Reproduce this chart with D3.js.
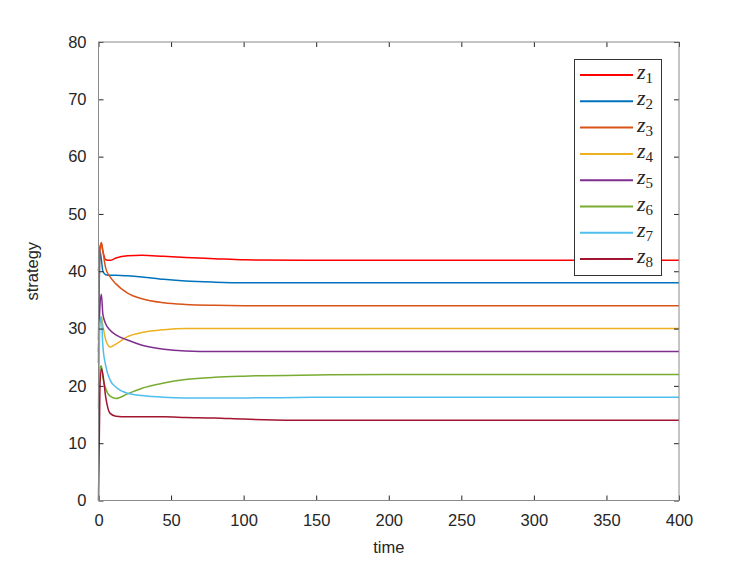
<!DOCTYPE html>
<html>
<head>
<meta charset="utf-8">
<script src="https://cdn.jsdelivr.net/npm/d3@7"></script>
<style>
  body { margin: 0; background: #fff; }
  svg { font-family: "Liberation Sans", Arial, sans-serif; }
</style>
</head>
<body>
<svg id="chart" width="750" height="563"></svg>
<script>
// sample times shared by all series
let times = [0, 1, 2, 3, 5, 8, 12, 20, 30, 45, 60, 80, 100, 150, 200, 300, 400];

let z1 = [40, 44, 44.8, 43.5, 42, 41.9, 42.3, 42.7, 42.8, 42.6, 42.4, 42.2, 42.0, 41.9, 41.9, 41.9, 41.9];
let z2 = [24, 43.5, 42, 40, 39.4, 39.3, 39.3, 39.2, 39.0, 38.6, 38.3, 38.1, 38.0, 38, 38, 38, 38];
let z3 = [28, 44, 45, 43.5, 40.5, 39, 37.8, 36.2, 35.2, 34.5, 34.2, 34.05, 34, 34, 34, 34, 34];
let z4 = [28, 31, 32, 30.5, 28, 26.8, 27.3, 28.6, 29.3, 29.8, 30, 30, 30, 30, 30, 30, 30];
let z5 = [26, 34, 36, 32.5, 30.8, 29.7, 28.9, 28, 27.1, 26.4, 26.1, 26, 26, 26, 26, 26, 26];
let z6 = [20, 23, 23.5, 21.5, 19.5, 18.2, 17.8, 18.6, 19.6, 20.5, 21.1, 21.5, 21.7, 21.9, 22, 22, 22];
let z7 = [16, 31, 32, 27, 23.5, 21, 19.8, 18.7, 18.3, 18, 17.9, 17.9, 17.9, 18, 18, 18, 18];
let z8 = [0, 20, 23, 22, 18, 15.2, 14.7, 14.6, 14.6, 14.6, 14.5, 14.4, 14.2, 14.0, 14, 14, 14];

let seriesNames = ["1", "2", "3", "4", "5", "6", "7", "8"];
let seriesValues = [z1, z2, z3, z4, z5, z6, z7, z8];
let colors = ["#ff0000", "#0072bd", "#d95319", "#edb120", "#7e2f8e", "#77ac30", "#4dbeee", "#a2142f"];

let xTicks = [0, 50, 100, 150, 200, 250, 300, 350, 400];
let yTicks = [0, 10, 20, 30, 40, 50, 60, 70, 80];

let svg = d3.select("#chart");
let plotL = 98.5, plotR = 679, plotT = 42, plotB = 500.5;

let x = d3.scaleLinear().domain([0, 400]).range([plotL, plotR]);
let y = d3.scaleLinear().domain([0, 80]).range([plotB, plotT]);

// lines
let line = d3.line()
    .x(function (d) { return x(d[0]); })
    .y(function (d) { return y(d[1]); })
    .curve(d3.curveMonotoneX);

seriesValues.forEach(function (vals, i) {
    let pts = times.map(function (t, j) { return [t, vals[j]]; });
    svg.append("path")
        .datum(pts)
        .attr("fill", "none")
        .attr("stroke", colors[i])
        .attr("stroke-width", 1.5)
        .attr("d", line);
});

// axes, MATLAB style: ticks inward on all four sides
function styleAxis(g) {
    g.select(".domain").remove();
    g.selectAll(".tick line").attr("stroke", "#262626");
    g.selectAll(".tick text").attr("fill", "#262626").style("font-size", "16.5px");
}

svg.append("g")
    .attr("transform", "translate(0," + plotB + ")")
    .call(d3.axisBottom(x).tickValues(xTicks).tickSizeInner(-5).tickSizeOuter(0).tickPadding(14))
    .call(styleAxis);

svg.append("g")
    .attr("transform", "translate(" + plotL + ",0)")
    .call(d3.axisLeft(y).tickValues(yTicks).tickSizeInner(-5).tickSizeOuter(0).tickPadding(12))
    .call(styleAxis);

svg.append("g")
    .attr("transform", "translate(0," + plotT + ")")
    .call(d3.axisTop(x).tickValues(xTicks).tickSizeInner(-5).tickSizeOuter(0).tickFormat(""))
    .call(styleAxis);

svg.append("g")
    .attr("transform", "translate(" + plotR + ",0)")
    .call(d3.axisRight(y).tickValues(yTicks).tickSizeInner(-5).tickSizeOuter(0).tickFormat(""))
    .call(styleAxis);

// box
svg.append("rect")
    .attr("x", plotL).attr("y", plotT)
    .attr("width", plotR - plotL).attr("height", plotB - plotT)
    .attr("fill", "none")
    .attr("stroke", "#8a8a8a")
    .attr("stroke-width", 1);

// axis labels
svg.append("text")
    .attr("x", (plotL + plotR) / 2)
    .attr("y", 553)
    .attr("text-anchor", "middle")
    .attr("fill", "#262626")
    .style("font-size", "16.5px")
    .text("time");

svg.append("text")
    .attr("transform", "translate(38," + ((plotT + plotB) / 2) + ") rotate(-90)")
    .attr("text-anchor", "middle")
    .attr("fill", "#262626")
    .style("font-size", "16.5px")
    .text("strategy");

// legend
let legend = svg.append("g");
legend.append("rect")
    .attr("x", 574.5).attr("y", 59.5)
    .attr("width", 87).attr("height", 216)
    .attr("fill", "#fff")
    .attr("stroke", "#333")
    .attr("stroke-width", 1);

seriesNames.forEach(function (name, i) {
    let ly = 75 + i * 26.3;
    legend.append("line")
        .attr("x1", 580).attr("x2", 633)
        .attr("y1", ly).attr("y2", ly)
        .attr("stroke", colors[i])
        .attr("stroke-width", 2);
    let t = legend.append("text")
        .attr("x", 637)
        .attr("y", ly + 4)
        .attr("fill", "#262626")
        .style("font-family", "'Liberation Serif', 'DejaVu Serif', serif")
        .style("font-size", "22px");
    t.append("tspan").style("font-style", "italic").text("z");
    t.append("tspan").attr("dy", 4).style("font-size", "15px").text(name);
});
</script>
</body>
</html>
